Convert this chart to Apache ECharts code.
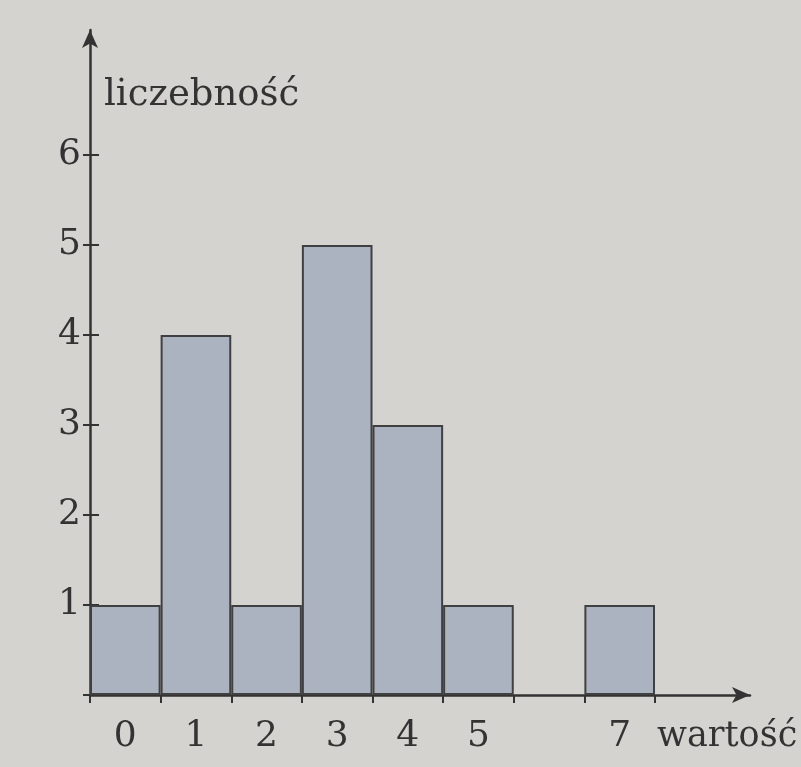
<!DOCTYPE html>
<html>
<head>
<meta charset="utf-8">
<script src="https://cdn.jsdelivr.net/npm/echarts@6/dist/echarts.min.js"></script>
<style>
html,body{margin:0;padding:0;background:#d5d3cf;}
#main{width:801px;height:767px;}
</style>
</head>
<body>
<div id="main"></div>
<script>
// dane histogramu
var wartosci = ['0', '1', '2', '3', '4', '5', '6', '7'];
var liczebnosci = [1, 4, 1, 5, 3, 1, null, 1];
var podpisyY = [1, 2, 3, 4, 5, 6];

var myChart = echarts.init(document.getElementById('main'));

var ink = '#333333';
var font = 'DejaVu Serif';

var option = {
    backgroundColor: '#d5d3cf',
    animation: false,
    grid: [
        {left: 90, right: 146, top: 155, bottom: 72, outerBoundsMode: 'none', containLabel: false},
        {left: 90, right: 51, top: 30, bottom: 72, outerBoundsMode: 'none', containLabel: false}
    ],
    xAxis: [
        {
            type: 'category',
            gridIndex: 0,
            data: wartosci,
            axisLine: {show: false},
            axisTick: {show: true, length: 8, lineStyle: {color: ink, width: 2}},
            axisLabel: {
                margin: 24,
                color: ink,
                fontFamily: font,
                fontSize: 36,
                formatter: function (v) { return v === '6' ? '' : v; }
            },
            name: 'wartość',
            nameLocation: 'end',
            nameGap: 2,
            nameTextStyle: {
                color: ink, fontFamily: font, fontSize: 35,
                align: 'left', verticalAlign: 'top', padding: [24, 0, 0, 0]
            }
        },
        {
            type: 'value',
            gridIndex: 1,
            min: 0, max: 1,
            axisLine: {show: true, symbol: ['none', 'arrow'], symbolSize: [12, 18], lineStyle: {color: ink, width: 2.5}},
            axisTick: {show: false},
            axisLabel: {show: false},
            splitLine: {show: false}
        }
    ],
    yAxis: [
        {
            type: 'value',
            gridIndex: 0,
            position: 'left',
            min: 0, max: 6, interval: 1,
            axisLine: {show: false},
            axisTick: {show: true, length: 7, lineStyle: {color: ink, width: 2}},
            axisLabel: {
                margin: 9,
                color: ink,
                fontFamily: font,
                fontSize: 36,
                formatter: function (v) { return podpisyY.indexOf(v) >= 0 ? String(v) : ''; }
            },
            splitLine: {show: false}
        },
        {
            type: 'value',
            gridIndex: 0,
            position: 'left',
            offset: 0,
            min: 0, max: 6, interval: 1,
            axisLine: {show: false},
            axisTick: {show: true, inside: true, length: 9, lineStyle: {color: ink, width: 2}},
            axisLabel: {show: false},
            splitLine: {show: false}
        },
        {
            type: 'value',
            gridIndex: 1,
            min: 0, max: 1,
            axisLine: {show: true, symbol: ['none', 'arrow'], symbolSize: [12, 18], lineStyle: {color: ink, width: 2.5}},
            axisTick: {show: false},
            axisLabel: {show: false},
            splitLine: {show: false},
            name: 'liczebność',
            nameLocation: 'end',
            nameGap: -65,
            nameTextStyle: {
                color: ink, fontFamily: font, fontSize: 37,
                align: 'left', verticalAlign: 'middle', padding: [0, 0, 0, 14]
            }
        }
    ],
    series: [
        {
            type: 'bar',
            xAxisIndex: 0,
            yAxisIndex: 0,
            data: liczebnosci,
            barCategoryGap: '0%',
            itemStyle: {color: '#abb3c1', borderColor: '#404040', borderWidth: 2}
        }
    ]
};

myChart.setOption(option);
window.onresize = function () { myChart.resize(); };
</script>
</body>
</html>
